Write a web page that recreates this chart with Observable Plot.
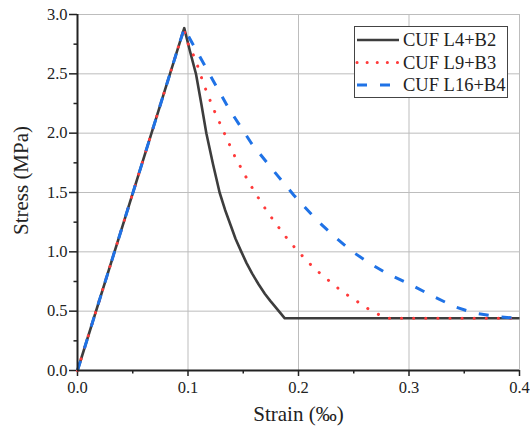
<!DOCTYPE html>
<html>
<head>
<meta charset="utf-8">
<script src="https://cdn.jsdelivr.net/npm/d3@7"></script>
<script src="https://cdn.jsdelivr.net/npm/@observablehq/plot@0.6"></script>
<style>
  html, body { margin: 0; padding: 0; background: #fff; }
  #chart { width: 530px; height: 433px; }
</style>
</head>
<body>
<div id="chart"></div>
<script>
// ---- data ----
const seriesNames = ["CUF L4+B2", "CUF L9+B3", "CUF L16+B4"];

const strainL4 = [0, 0.0966, 0.1018, 0.1072, 0.1120, 0.1166, 0.1226, 0.1286, 0.1335, 0.1386, 0.1430, 0.1481, 0.1530, 0.1581, 0.1640, 0.1695, 0.1745, 0.1792, 0.1835, 0.1876, 0.4];
const stressL4 = [0, 2.885, 2.69, 2.50, 2.25, 2.00, 1.74, 1.50, 1.355, 1.224, 1.11, 1.004, 0.905, 0.816, 0.725, 0.647, 0.587, 0.534, 0.485, 0.44, 0.44];

const strainL9 = [0, 0.0966, 0.0977, 0.1068, 0.1143, 0.1228, 0.1324, 0.1421, 0.1529, 0.1590, 0.1650, 0.1713, 0.1780, 0.1852, 0.1921, 0.1997, 0.2078, 0.2163, 0.2253, 0.2344, 0.2434, 0.2540, 0.2643, 0.2742, 0.2787, 0.4];
const stressL9 = [0, 2.885, 2.80, 2.62, 2.41, 2.21, 2.01, 1.81, 1.623, 1.525, 1.435, 1.344, 1.257, 1.167, 1.083, 1.004, 0.922, 0.844, 0.774, 0.703, 0.641, 0.576, 0.512, 0.464, 0.44, 0.44];

const strainL16 = [0, 0.0966, 0.1023, 0.1174, 0.1369, 0.1575, 0.1807, 0.1958, 0.2169, 0.2330, 0.2490, 0.2650, 0.2803, 0.2998, 0.3240, 0.3420, 0.3600, 0.3810, 0.4];
const stressL16 = [0, 2.885, 2.785, 2.532, 2.208, 1.913, 1.646, 1.477, 1.264, 1.125, 1.0, 0.900, 0.816, 0.731, 0.615, 0.535, 0.482, 0.452, 0.44];

const xTicks = [0, 0.1, 0.2, 0.3, 0.4];
const xMinor = [0.05, 0.15, 0.25, 0.35];
const yTicks = [0, 0.5, 1.0, 1.5, 2.0, 2.5, 3.0];
const yMinor = [0.25, 0.75, 1.25, 1.75, 2.25, 2.75];

const xLabel = "Strain (‰)";
const yLabel = "Stress (MPa)";

// ---- styles ----
const colors = ["#3d3d3d", "#ff3a3a", "#1f72e6"];
const widths = [2.6, 3, 3];
const dashes = [null, "0.1 12", "10 13"];

const toRows = (xs, ys) => xs.map((x, i) => ({x, y: ys[i]}));
const rows = [toRows(strainL4, stressL4), toRows(strainL9, stressL9), toRows(strainL16, stressL16)];

const font = "'Liberation Serif', 'DejaVu Serif', serif";

const chart = Plot.plot({
  width: 530,
  height: 433,
  marginLeft: 77,
  marginRight: 11,
  marginTop: 14,
  marginBottom: 63,
  style: {fontFamily: font, background: "#fff", color: "#222"},
  x: {domain: [0, 0.4]},
  y: {domain: [0, 3]},
  marks: [
    Plot.gridX(xTicks, {stroke: "#bdbdbd", strokeOpacity: 1, strokeWidth: 1}),
    Plot.gridY(yTicks, {stroke: "#bdbdbd", strokeOpacity: 1, strokeWidth: 1}),
    Plot.axisX(xTicks, {tickFormat: d3.format(".1f"), tickSize: 6, tickPadding: 5, fontSize: 16.5, label: null, stroke: "#222", strokeWidth: 1.5}),
    Plot.axisX(xMinor, {tickFormat: () => "", tickSize: 3.5, label: null, stroke: "#222", strokeWidth: 1.5}),
    Plot.axisY(yTicks, {tickFormat: d3.format(".1f"), tickSize: 8, tickPadding: 2, fontSize: 16.5, label: null, stroke: "#222", strokeWidth: 1.5}),
    Plot.axisY(yMinor, {tickFormat: () => "", tickSize: 3.5, label: null, stroke: "#222", strokeWidth: 1.5}),
    ...rows.map((r, i) => Plot.line(r, {
      x: "x", y: "y",
      stroke: colors[i],
      strokeWidth: widths[i],
      strokeDasharray: dashes[i],
      strokeLinecap: i === 1 ? "round" : "butt",
      strokeLinejoin: "round"
    })),
    Plot.ruleX([0], {stroke: "#222", strokeWidth: 2}),
    Plot.ruleY([0], {stroke: "#222", strokeWidth: 2}),
    Plot.text([yLabel], {frameAnchor: "left", dx: -56, dy: -12, rotate: -90, fontSize: 21, fill: "#222", textAnchor: "middle"}),
    Plot.text([xLabel], {frameAnchor: "bottom", dy: 50, fontSize: 21, fill: "#222", textAnchor: "middle"})
  ]
});

document.getElementById("chart").appendChild(chart);

// ---- legend (drawn inside the svg) ----
const svg = d3.select(chart);
const lg = svg.append("g").attr("text-anchor", "start");
lg.append("rect")
  .attr("x", 354.5).attr("y", 26.5).attr("width", 153).attr("height", 71)
  .attr("fill", "#fff").attr("stroke", "#444").attr("stroke-width", 1);
const rowY = [40, 62.5, 85];
seriesNames.forEach((name, i) => {
  lg.append("line")
    .attr("x1", 357).attr("x2", 399).attr("y1", rowY[i]).attr("y2", rowY[i])
    .attr("stroke", colors[i]).attr("stroke-width", widths[i])
    .attr("stroke-dasharray", i === 1 ? "0.1 10" : dashes[i])
    .attr("stroke-linecap", i === 1 ? "round" : "butt");
  lg.append("text")
    .attr("x", 403).attr("y", rowY[i]).attr("dy", "0.35em")
    .attr("text-anchor", "start")
    .attr("font-size", 18.5).attr("fill", "#222")
    .text(name);
});
svg.selectAll("text").style("font-family", font);
</script>
</body>
</html>
